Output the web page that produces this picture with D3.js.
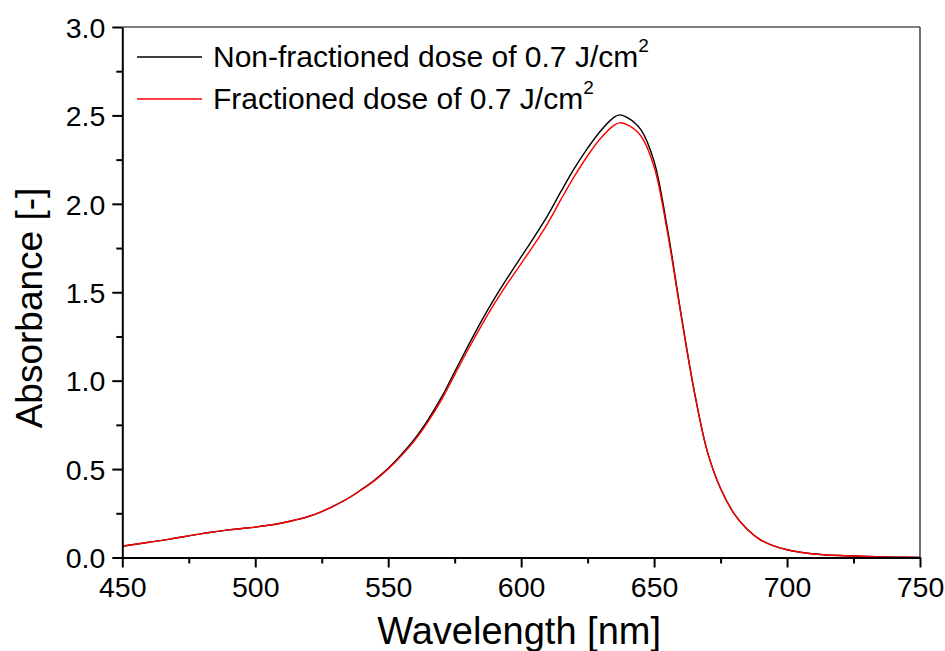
<!DOCTYPE html>
<html><head><meta charset="utf-8">
<script src="https://cdn.jsdelivr.net/npm/d3@7"></script>
<style>body{margin:0;background:#fff}svg{display:block}text{font-family:"Liberation Sans",Arial,sans-serif;fill:#000}</style>
</head><body><svg id="c" width="945" height="651"></svg>
<script>
const wavelengths = [450,455,460,465,470,475,480,485,490,495,500,505,510,515,520,525,530,535,540,545,550,555,560,565,570,575,580,585,590,595,600,605,610,615,620,625,630,635,637,640,645,650,655,660,665,670,675,680,685,690,695,700,705,710,720,730,740,750];
const nonFractioned = [0.064,0.075,0.086,0.097,0.110,0.122,0.135,0.146,0.156,0.164,0.172,0.182,0.195,0.212,0.232,0.260,0.295,0.335,0.385,0.440,0.505,0.583,0.672,0.780,0.905,1.050,1.195,1.335,1.465,1.585,1.700,1.815,1.935,2.070,2.200,2.315,2.415,2.490,2.503,2.488,2.420,2.240,1.860,1.390,0.950,0.600,0.390,0.250,0.160,0.100,0.066,0.044,0.030,0.020,0.011,0.006,0.002,0.0];
const fractioned = [0.064,0.075,0.086,0.097,0.110,0.122,0.135,0.146,0.156,0.164,0.172,0.182,0.195,0.212,0.232,0.260,0.295,0.335,0.383,0.436,0.500,0.576,0.662,0.768,0.890,1.033,1.175,1.310,1.437,1.553,1.662,1.772,1.890,2.025,2.155,2.272,2.372,2.445,2.458,2.446,2.385,2.210,1.840,1.380,0.945,0.600,0.390,0.250,0.160,0.100,0.066,0.044,0.030,0.020,0.011,0.006,0.002,0.0];
const xTicks = [450,500,550,600,650,700,750];
const yTicks = [0.0,0.5,1.0,1.5,2.0,2.5,3.0];
const seriesNames = ["Non-fractioned dose of 0.7 J/cm","Fractioned dose of 0.7 J/cm"];
const seriesColors = ["#000000","#ff0000"];

const svg = d3.select("#c");
const L=122.3, R=920, T=27, B=557.5;
const x = d3.scaleLinear().domain([450,750]).range([L,R]);
const y = d3.scaleLinear().domain([0,3]).range([B,T]);

// frame top/right
svg.append("line").attr("x1",L).attr("x2",R).attr("y1",T).attr("y2",T).attr("stroke","#555").attr("stroke-width",1.3);
svg.append("line").attr("x1",R).attr("x2",R).attr("y1",T).attr("y2",B).attr("stroke","#222").attr("stroke-width",1.3);

const line = d3.line().x((d,i)=>x(wavelengths[i])).y(d=>y(Math.max(0,d))).curve(d3.curveCatmullRom.alpha(0.5));
[nonFractioned,fractioned].forEach((s,k)=>{
  svg.append("path").datum(s).attr("d",line).attr("fill","none").attr("stroke",seriesColors[k]).attr("stroke-width",1.4);
});

// axes
const xMinor = d3.range(475,750,50);
const yMinor = d3.range(0.25,3,0.5);
const xa = svg.append("g").attr("transform",`translate(0,${B})`);
xa.call(d3.axisBottom(x).tickValues(xTicks).tickFormat(d3.format("d")).tickSize(10).tickSizeOuter(0));
xa.append("g").call(d3.axisBottom(x).tickValues(xMinor).tickFormat("").tickSize(6).tickSizeOuter(0)).select(".domain").remove();
xa.selectAll("text").attr("font-size",28.5).attr("dy","0.71em").attr("y",19).attr("font-family","Liberation Sans, Arial");
const ya = svg.append("g").attr("transform",`translate(${L},0)`);
ya.call(d3.axisLeft(y).tickValues(yTicks).tickFormat(d3.format(".1f")).tickSize(10).tickSizeOuter(0));
ya.append("g").call(d3.axisLeft(y).tickValues(yMinor).tickFormat("").tickSize(6).tickSizeOuter(0)).select(".domain").remove();
ya.selectAll("text").attr("font-size",28.5).attr("x",-17).attr("dy","0.36em").attr("font-family","Liberation Sans, Arial");
svg.selectAll(".domain").attr("stroke","#000").attr("stroke-width",2);
svg.selectAll(".tick line").attr("stroke","#000").attr("stroke-width",2);

// titles
svg.append("text").attr("x",(L+R)/2-2).attr("y",644).attr("text-anchor","middle").attr("font-size",38).text("Wavelength [nm]");
svg.append("text").attr("transform","translate(42,308) rotate(-90)").attr("text-anchor","middle").attr("font-size",37).text("Absorbance [-]");

// legend
const legY=[57,99];
seriesNames.forEach((n,k)=>{
  svg.append("line").attr("x1",137).attr("x2",202).attr("y1",legY[k]).attr("y2",legY[k]).attr("stroke",seriesColors[k]).attr("stroke-width",1.3);
  const t = svg.append("text").attr("x",213).attr("y",legY[k]+10).attr("font-size",30).text(n);
  t.append("tspan").attr("font-size",19).attr("dy",-15).text("2");
});
</script></body></html>
